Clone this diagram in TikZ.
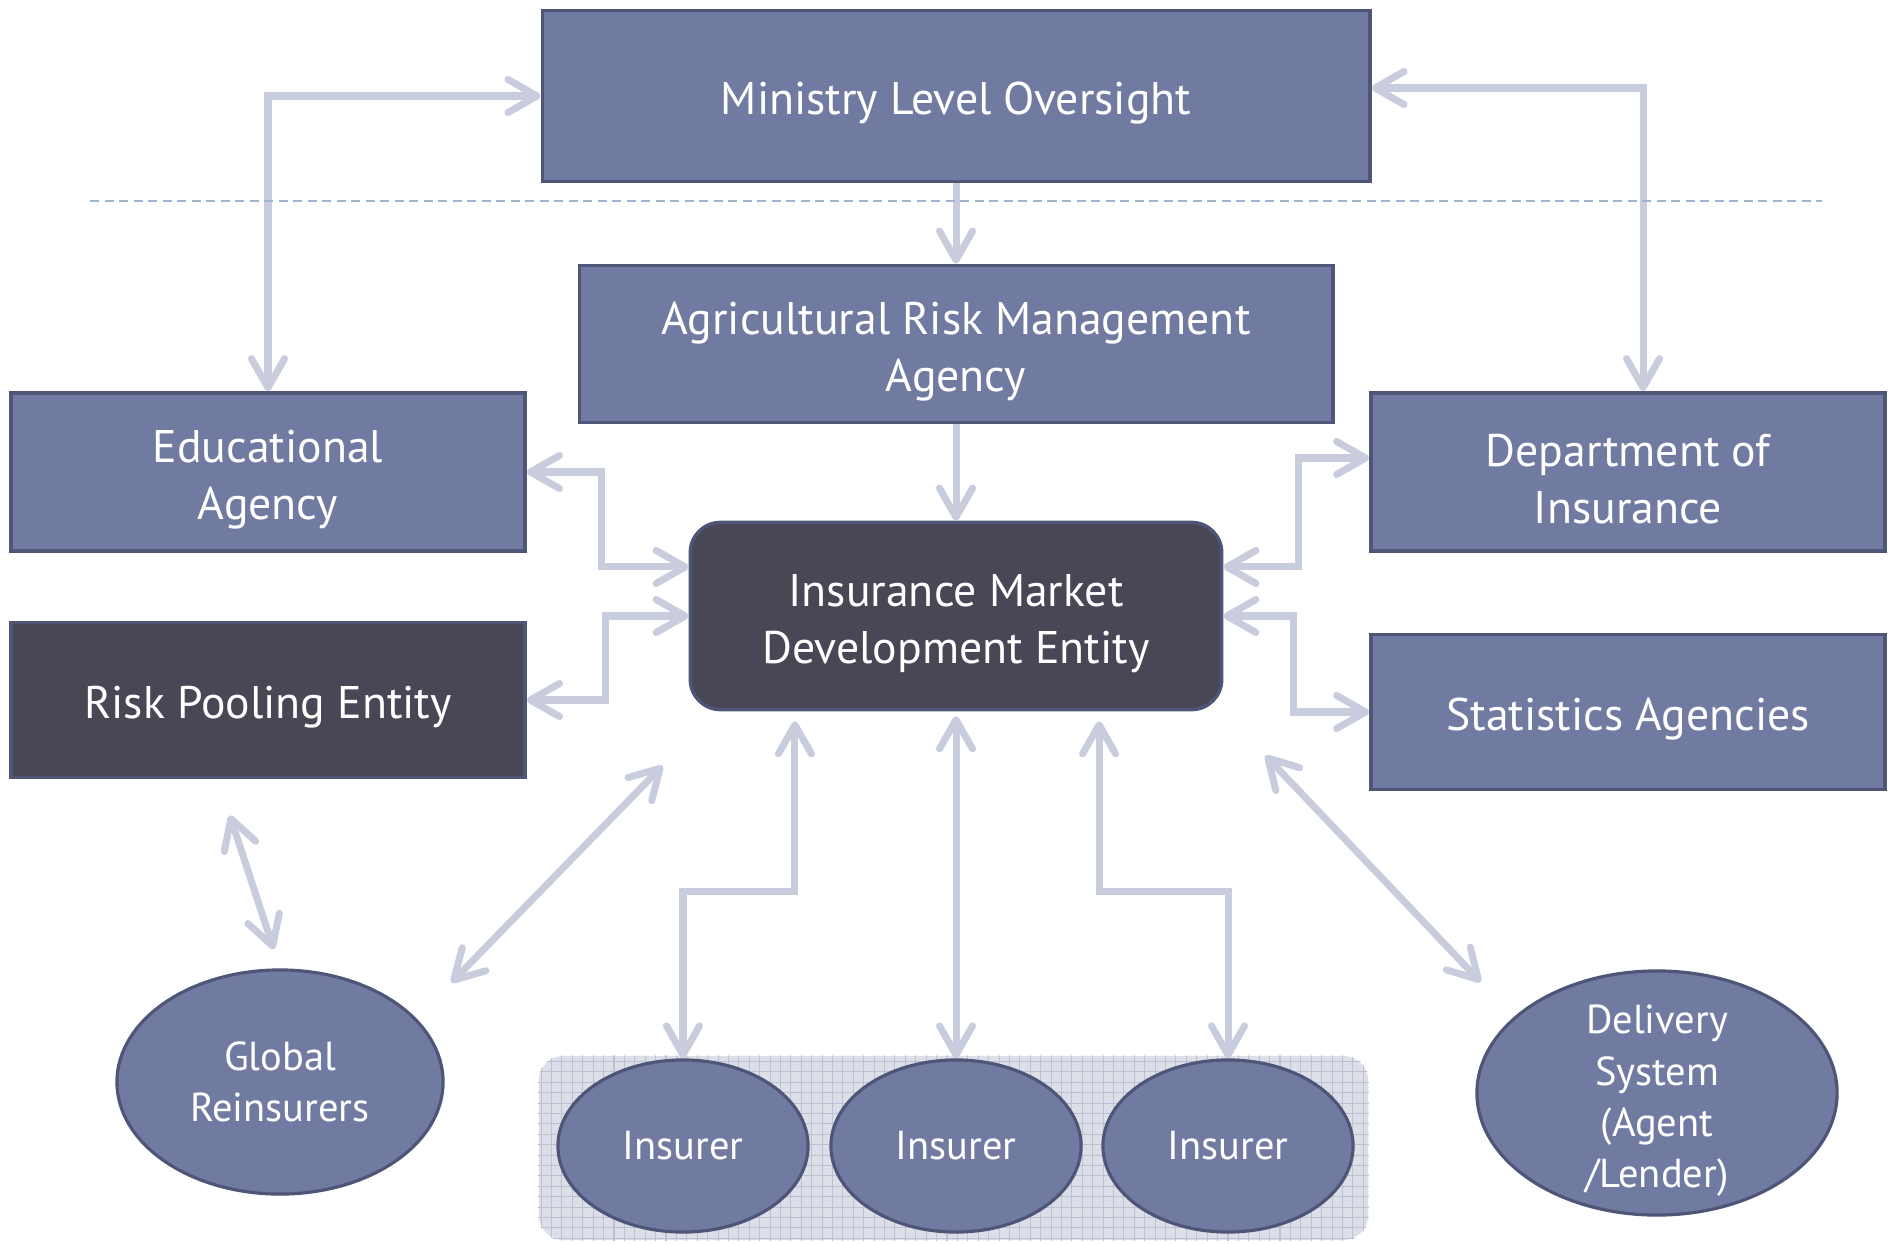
\documentclass[tikz,border=0pt]{standalone}
\usepackage{fontspec}
\setmainfont{PT Sans}
\usetikzlibrary{arrows.meta, positioning, calc, shapes.geometric}
\definecolor{boxblue}{HTML}{717BA1}
\definecolor{boxdark}{HTML}{474756}
\definecolor{boxline}{HTML}{4E5577}
\definecolor{linkgray}{HTML}{C8CCDC}
\definecolor{sepblue}{HTML}{A0B4CC}
\definecolor{gridfill}{HTML}{DCDEE8}
\definecolor{gridline}{HTML}{BCC0D3}

\begin{document}
\begin{tikzpicture}[
        x=0.01cm, y=-0.01cm,
        box/.style = {rectangle, draw=boxline, line width=1pt, fill=boxblue, text=white, inner sep=0pt, align=center, font=\fontsize{13}{16.2}\selectfont, execute at begin node={\rule{0pt}{#1}}},
        box/.default = 13.5pt,
        darkbox/.style = {box=#1, fill=boxdark},
        darkbox/.default = 13.5pt,
        oval/.style = {ellipse, draw=boxline, line width=0.9pt, fill=boxblue, text=white, inner sep=0pt, align=center, font=\fontsize{11.5}{14.6}\selectfont},
        link/.style = {<->, line width=2pt, linkgray},
        line/.style = {->, line width=2pt, linkgray},
        >={Straight Barb[length=2.9mm, width=3.3mm, round]},
    ]
        \useasboundingbox (0,0) rectangle (1892,1243);
        % boxes
        \node[box, minimum width=8.27cm, minimum height=1.71cm] (MO) at (956,96) {Ministry Level Oversight};
        \node[box=29.7pt, minimum width=7.53cm, minimum height=1.57cm] (AR) at (956,344) {Agricultural Risk Management\\Agency};
        \node[box=29.7pt, minimum width=5.14cm, minimum height=1.58cm] (EA) at (268,472) {Educational\\Agency};
        \node[box=29.7pt, minimum width=5.14cm, minimum height=1.58cm] (DI) at (1628,472) {Department of\\Insurance};
        \node[darkbox, minimum width=5.14cm, minimum height=1.55cm] (RP) at (268,700) {Risk Pooling Entity};
        \node[box, minimum width=5.14cm, minimum height=1.55cm] (SA) at (1628,712) {Statistics Agencies};
        \node[darkbox=29.7pt, rounded corners=0.3cm, minimum width=5.31cm, minimum height=1.87cm] (IM) at (956,616) {Insurance Market\\Development Entity};

        % insurer group
        \node[fill=gridfill, rounded corners=0.25cm, minimum width=8.29cm, minimum height=1.84cm, inner sep=0pt] (IG) at (953.5,1148) {};
        \begin{scope}
            \clip[rounded corners=0.25cm] (IG.south west) rectangle (IG.north east);
            \draw[gridline, line width=0.3pt, step=0.104cm] (IG.south west) grid (IG.north east);
        \end{scope}
        \foreach \i/\x in {1/683, 2/956, 3/1228}{
            \node[oval, minimum width=2.5cm, minimum height=1.72cm] (In\i) at (\x,1146) {Insurer};
        }
        \node[oval, minimum width=3.26cm, minimum height=2.24cm] (GR) at (280,1082) {Global\\Reinsurers};
        \node[oval, minimum width=3.6cm, minimum height=2.44cm,
            label={[text=white, align=center, yshift=-0.08cm, font=\fontsize{11.5}{14.6}\selectfont]center:Delivery\\System\\(Agent\\/Lender)}] (DS) at (1657,1093) {};

        % connectors
        \draw[link] (EA.north) |- (MO.west);
        \draw[link] ([yshift=0.08cm]MO.east) -| ([xshift=0.15cm]DI.north);
        \draw[line] (MO) -- (AR);
        \draw[line] (AR) -- (IM);
        \draw[link] (EA.east) -| ([xshift=-0.87cm, yshift=0.49cm]IM.west) -- ([yshift=0.49cm]IM.west);
        \draw[link] (RP.east) -| ([xshift=-0.83cm]IM.west) -- (IM.west);
        \draw[link] ([yshift=0.49cm]IM.east) -| ([xshift=-0.71cm, yshift=0.14cm]DI.west) -- ([yshift=0.14cm]DI.west);
        \draw[link] (IM.east) -| ([xshift=-0.76cm]SA.west) -- (SA.west);
        \draw[link, shorten >=0.1cm] (In1.north) |- ([xshift=-1.61cm, yshift=-1.8cm]IM.south) -- ([xshift=-1.61cm]IM.south);
        \draw[link, shorten >=0.05cm] (In2) -- (IM);
        \draw[link, shorten >=0.1cm] (In3.north) |- ([xshift=1.43cm, yshift=-1.8cm]IM.south) -- ([xshift=1.43cm]IM.south);
        \draw[link, shorten <=0.38cm, shorten >=0.2cm] ([xshift=-0.5cm]RP.south) -- (GR.north);
        \draw[link, shorten <=0.5cm, shorten >=0.76cm] (GR.25) -- ([xshift=0.27cm]IM.south west);
        \draw[link, shorten <=0.48cm, shorten >=0.61cm] (DS.152) -- (IM.south east);

        % level separator
        \draw[sepblue, line width=0.8pt, dash pattern=on 0.09cm off 0.055cm] (90,201) -- (1822,201);
    \end{tikzpicture}
\end{document}
